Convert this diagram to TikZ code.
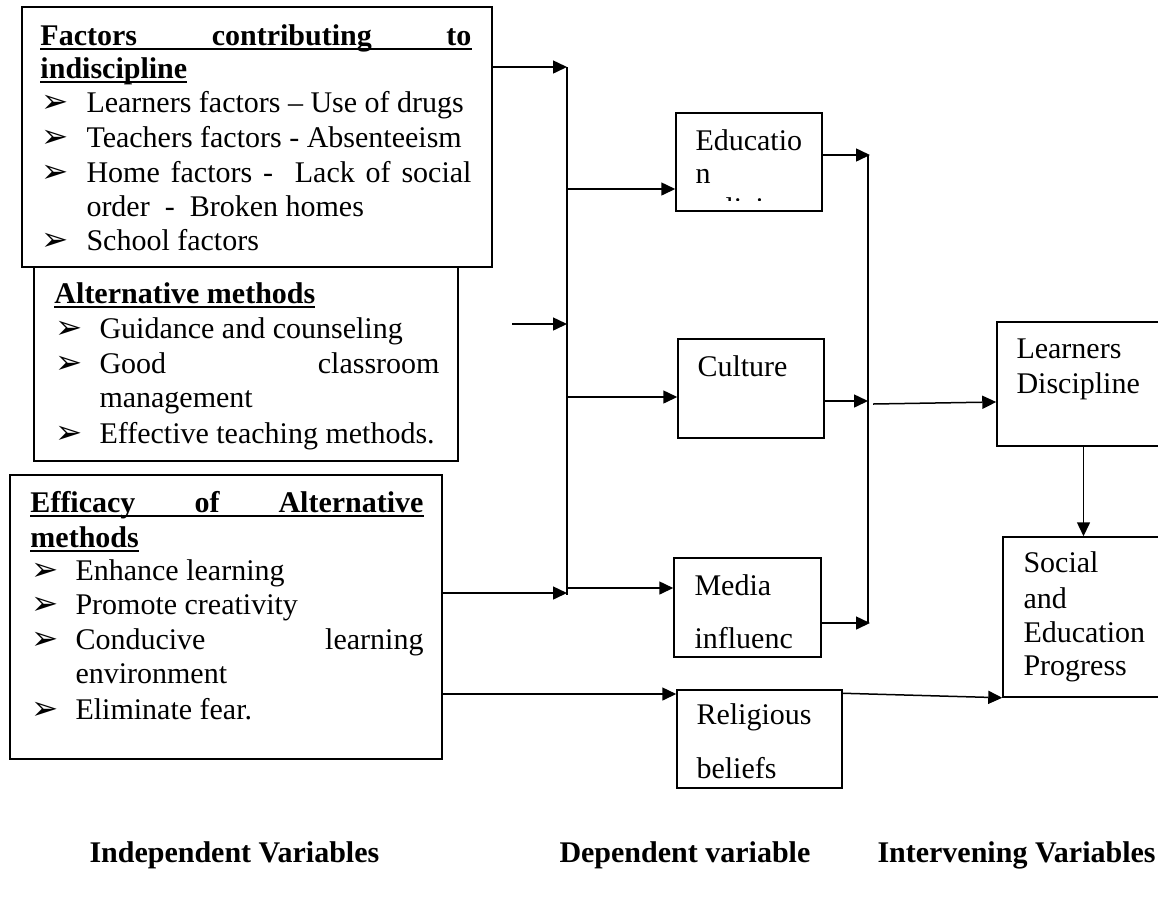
\documentclass[tikz,border=0pt]{standalone}
\usepackage{fontspec}
\setmainfont{Liberation Serif}
\newfontfamily\dvfont{DejaVu Sans}
\usetikzlibrary{arrows.meta,fit}
\newcommand\bulletglyph{{\dvfont\fontsize{13}{13}\selectfont ➢}}
\newsavebox\ulbox
\newcommand\ulx[1]{\sbox\ulbox{#1}\rlap{\rule[-1.9pt]{\wd\ulbox}{0.85pt}}\usebox\ulbox}
\begin{document}
\begin{tikzpicture}[x=0.4pt,y=-0.4pt,
  box/.style={draw,line width=0.6pt,fill=white,inner sep=0pt},
  txt/.style={anchor=base west,inner sep=0pt,font=\fontsize{12}{13.8}\selectfont},
  hd/.style={txt,font=\fontsize{12}{13.8}\selectfont\bfseries},
  arr/.style={line width=0.6pt,-{Triangle[length=5.6pt,width=5.2pt]}},
  bus/.style={line width=0.9pt}]
\useasboundingbox (0,0) rectangle (1158,908);

% ---------- left boxes ----------
\node[box,fit={(34,262) (458,461)}] (f2) {};
\node[box,fit={(22,7) (492,267)}] (f1) {};
\node[box,fit={(10,475) (442,759)}] (f3) {};

% box 1 text
\node[hd] (f1h) at (40,45) {\ulx{\makebox[172.4pt][s]{Factors contributing to}}};
\node[hd] (f1h2) at (40,78) {\ulx{indiscipline}};
\node[txt] (f1b1) at (41,112) {\bulletglyph};
\node[txt] (f1t1) at (86,112) {Learners factors – Use of drugs};
\node[txt] (f1b2) at (41,147) {\bulletglyph};
\node[txt] (f1t2) at (86,147) {Teachers factors - Absenteeism};
\node[txt] (f1b3) at (41,182) {\bulletglyph};
\node[txt] (f1t3) at (86,182) {\makebox[154pt][s]{Home factors - \ Lack of social}};
\node[txt] (f1t4) at (86,216) {order \ - \ Broken homes};
\node[txt] (f1b5) at (41,250) {\bulletglyph};
\node[txt] (f1t5) at (86,250) {School factors};

% box 2 text
\node[hd] (f2h) at (54,303) {\ulx{Alternative methods}};
\node[txt] (f2b1) at (55,338) {\bulletglyph};
\node[txt] (f2t1) at (99,338) {Guidance and counseling};
\node[txt] (f2b2) at (55,373) {\bulletglyph};
\node[txt] (f2t2) at (99,373) {\makebox[136pt][s]{Good classroom}};
\node[txt] (f2t3) at (99,407) {management};
\node[txt] (f2b4) at (55,443) {\bulletglyph};
\node[txt] (f2t4) at (99,443) {Effective teaching methods.};

% box 3 text
\node[hd] (f3h) at (30,512) {\ulx{\makebox[157.2pt][s]{Efficacy of Alternative}}};
\node[hd] (f3h2) at (30,547) {\ulx{methods}};
\node[txt] (f3b1) at (31,580) {\bulletglyph};
\node[txt] (f3t1) at (75,580) {Enhance learning};
\node[txt] (f3b2) at (31,614) {\bulletglyph};
\node[txt] (f3t2) at (75,614) {Promote creativity};
\node[txt] (f3b3) at (31,649) {\bulletglyph};
\node[txt] (f3t3) at (75,649) {\makebox[139.2pt][s]{Conducive learning}};
\node[txt] (f3t4) at (75,683) {environment};
\node[txt] (f3b5) at (31,719) {\bulletglyph};
\node[txt] (f3t5) at (75,719) {Eliminate fear.};

% ---------- middle boxes ----------
\node[box,fit={(676,113) (822,211)}] (ed) {};
\node[txt] (edt1) at (695,150) {Educatio};
\node[txt] (edt2) at (695,183) {n};
\begin{scope}
  \clip (678,115) rectangle (820,200);
  \node[txt] (edt3) at (695,218) {policies};
\end{scope}

\node[box,fit={(678,339) (824,438)}] (cu) {};
\node[txt] (cut) at (697,376) {Culture};

\node[box,fit={(674,558) (821,657)}] (me) {};
\node[txt] (met1) at (694,595) {Media};
\node[txt] (met2) at (694,648) {influenc};

\node[box,fit={(677,690) (842,788)}] (re) {};
\node[txt] (ret1) at (696,724) {Religious};
\node[txt] (ret2) at (696,778) {beliefs};

% ---------- right boxes ----------
\node[box,fit={(997,322) (1170,446)}] (le) {};
\node[txt] (let1) at (1016,358) {Learners};
\node[txt] (let2) at (1016,393) {Discipline};

\node[box,fit={(1003,537) (1170,697)}] (so) {};
\node[txt] (sot1) at (1023,572) {Social};
\node[txt] (sot2) at (1023,608) {and};
\node[txt] (sot3) at (1023,642) {Education};
\node[txt] (sot4) at (1023,675) {Progress};

% ---------- connectors ----------
\coordinate (b1t) at (567,67);
\coordinate (b1b) at (567,595);
\draw[bus] (b1t) -- (b1b);
\draw[arr] (b1t -| f1.east) -- (b1t);
\coordinate (a0) at (512,324);
\coordinate (a1) at (567,324);
\draw[arr] (a0) -- (a1);
\coordinate (a3) at (567,593);
\draw[arr] (a3 -| f3.east) -- (a3);

\coordinate (o1) at (568,189);
\coordinate (o2) at (568,397);
\coordinate (o3) at (568,588);
\draw[arr] (o1) -- (o1 -| ed.west);
\draw[arr] (o2) -- (o2 -| cu.west);
\draw[arr] (o3) -- (o3 -| me.west);

\coordinate (r0) at (442,694);
\draw[arr] (r0 -| f3.east) -- (r0 -| re.west);

\coordinate (b2t) at (868,155);
\coordinate (b2b) at (868,623);
\coordinate (c1) at (868,401);
\draw[bus] (b2t) -- (b2b);
\draw[arr] (b2t -| ed.east) -- ([xshift=0.8pt]b2t);
\draw[arr] (c1 -| cu.east) -- (c1);
\draw[arr] (b2b -| me.east) -- ([xshift=0.8pt]b2b);

\coordinate (l0) at (873,404);
\draw[arr] (l0) -- ([yshift=-7.2pt]le.west);
\draw[arr] (le.south) -- (le.south |- so.north);
\draw[arr] ([yshift=-1.6pt]re.north east) -- (so.south west);

% ---------- labels ----------
\node[hd] (lab1) at (89,862) {Independent Variables};
\node[hd] (lab2) at (559,862) {Dependent variable};
\node[hd] (lab3) at (877,862) {Intervening Variables};
\end{tikzpicture}
\end{document}
